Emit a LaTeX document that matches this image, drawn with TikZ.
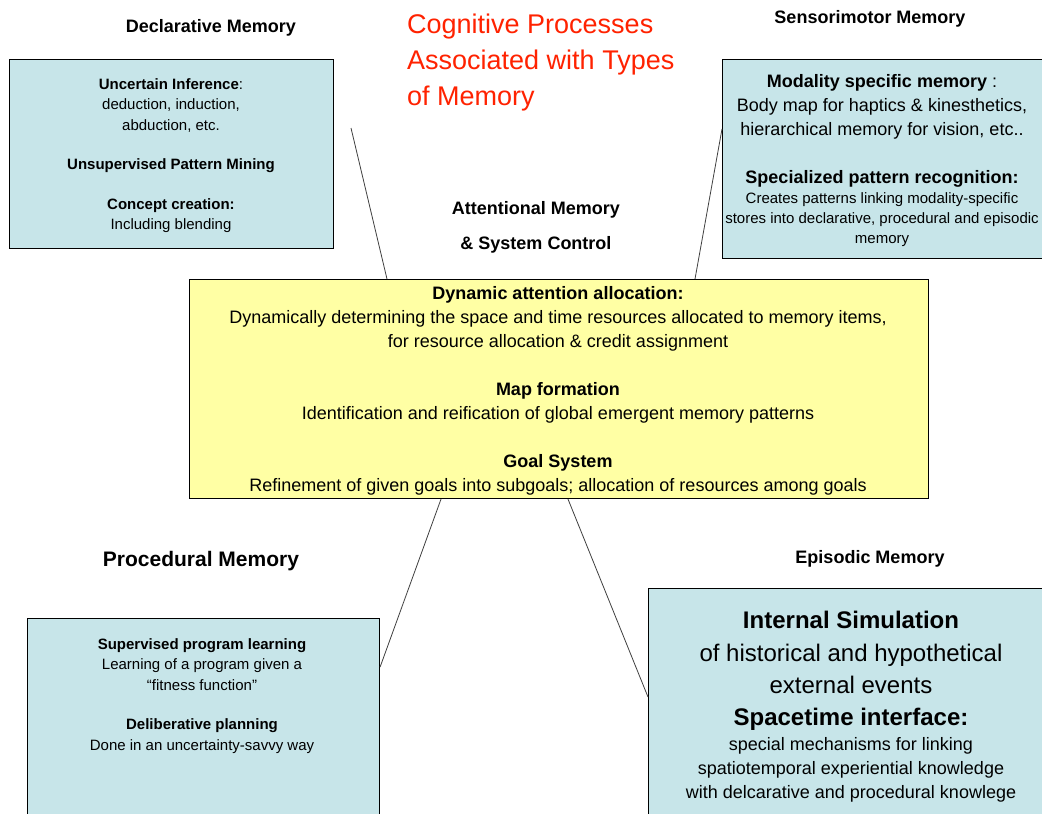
\documentclass[tikz,border=0pt]{standalone}
\usepackage{fontspec}
\setmainfont{Liberation Sans}
\usetikzlibrary{positioning}

\definecolor{memblue}{RGB}{199,229,233}
\definecolor{attnyellow}{RGB}{255,255,164}
\definecolor{titlered}{RGB}{255,34,0}

\begin{document}
\begin{tikzpicture}[x=1pt, y=-1pt,
    membox/.style={draw, rectangle, line width=1.1pt, anchor=north west, inner sep=0pt},
    head/.style={font=\fontsize{18}{22}\selectfont\bfseries, inner sep=0pt},
    boxtext/.style={align=center, inner sep=0pt},
    link/.style={draw=black!75, line width=0.8pt}]
    \useasboundingbox (0,0) rectangle (1042,814);
    \fill[white] (0,0) rectangle (1042,814);
    \clip (0,0) rectangle (1042,814);

    % Title
    \node[align=left, anchor=west, inner sep=0pt, text=titlered,
          font=\fontsize{27}{36}\selectfont] (title) at (407,63)
        {Cognitive Processes\\ Associated with Types\\ of Memory};

    % Declarative memory
    \node[head] (declhead) at (211,28) {Declarative Memory};
    \node[membox, fill=memblue, minimum width=324pt, minimum height=189pt] (decl) at (9,59) {};
    \node[boxtext, font=\fontsize{15}{20.5}\selectfont] (decltext) at (171,155.5)
        {\textbf{Uncertain Inference}:\\ deduction, induction,\\ abduction, etc.\\[19pt]
         \textbf{Unsupervised Pattern Mining}\\[19pt]
         \textbf{Concept creation:}\\ Including blending};

    % Sensorimotor memory
    \node[head] (senshead) at (870,19) {Sensorimotor Memory};
    \node[membox, fill=memblue, minimum width=325pt, minimum height=199pt] (sensori) at (722,59) {};
    \node[boxtext, font=\fontsize{18}{24}\selectfont] (senstop) at (882,107)
        {\textbf{Modality specific memory} :\\ Body map for haptics \& kinesthetics,\\ hierarchical memory for vision, etc..};
    \node[boxtext, font=\fontsize{18}{24}\selectfont\bfseries] (sensmid) at (882,179)
        {Specialized pattern recognition:};
    \node[boxtext, font=\fontsize{15}{20}\selectfont] (sensbot) at (882,220)
        {Creates patterns linking modality-specific\\ stores into declarative, procedural and episodic\\ memory};

    % Attentional memory
    \node[head, align=center, font=\fontsize{18}{35}\selectfont\bfseries] (attnhead) at (536,227.5)
        {Attentional Memory\\ \& System Control};
    \node[membox, fill=attnyellow, minimum width=739pt, minimum height=219pt] (attn) at (189,279) {};
    \node[boxtext, font=\fontsize{18}{24}\selectfont] (attntext) at (558,391)
        {\textbf{Dynamic attention allocation:}\\
         Dynamically determining the space and time resources allocated to memory items,\\
         for resource allocation \& credit assignment\\[24pt]
         \textbf{Map formation}\\
         Identification and reification of global emergent memory patterns\\[24pt]
         \textbf{Goal System}\\
         Refinement of given goals into subgoals; allocation of resources among goals};

    % Procedural memory
    \node[head, font=\fontsize{21}{25}\selectfont\bfseries] (prochead) at (201,561.5) {Procedural Memory};
    \node[membox, fill=memblue, minimum width=352pt, minimum height=230pt] (proc) at (27,618) {};
    \node[boxtext, font=\fontsize{15}{20.5}\selectfont] (proctext) at (202,696)
        {\textbf{Supervised program learning}\\ Learning of a program given a\\ ``fitness function''\\[19pt]
         \textbf{Deliberative planning}\\ Done in an uncertainty-savvy way};

    % Episodic memory
    \node[head] (epihead) at (870,559) {Episodic Memory};
    \node[membox, fill=memblue, minimum width=400pt, minimum height=240pt] (episodic) at (648,588) {};
    \node[boxtext, font=\fontsize{24}{32.3}\selectfont] (epitop) at (851,671)
        {\textbf{Internal Simulation}\\ of historical and hypothetical\\ external events\\ \textbf{Spacetime interface:}};
    \node[boxtext, font=\fontsize{18}{24}\selectfont] (epibot) at (851,770)
        {special mechanisms for linking\\ spatiotemporal experiential knowledge\\ with delcarative and procedural knowlege};

    % Links to the attention box
    \coordinate (declfree) at (351,128);
    \draw[link] (declfree) -- ([xshift=198pt]attn.north west);
    \draw[link] ([yshift=-70pt]sensori.north west) -- ([xshift=506pt]attn.north west);
    \draw[link] ([xshift=252pt]attn.south west) -- ([yshift=-49pt]proc.north east);
    \draw[link] ([xshift=379pt]attn.south west) -- ([yshift=-109pt]episodic.north west);
\end{tikzpicture}
\end{document}
